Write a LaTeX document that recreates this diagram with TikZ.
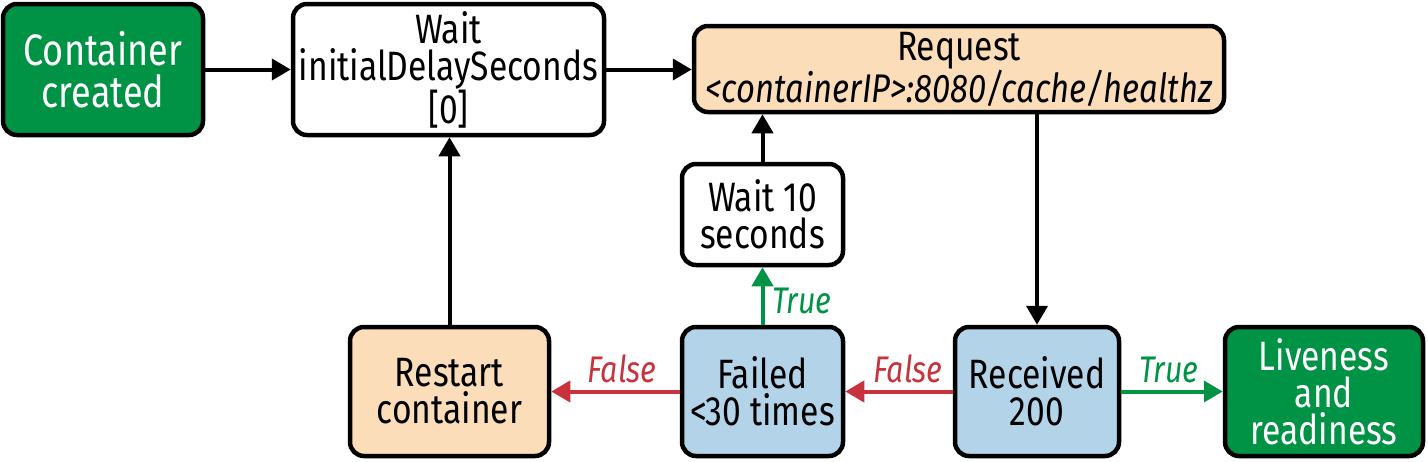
\documentclass[tikz,border=0pt]{standalone}
\usepackage{fontspec}
\setmainfont{Fira Sans}[FakeStretch=0.82]
\usetikzlibrary{arrows.meta}
\definecolor{gr}{HTML}{009245}
\definecolor{peach}{HTML}{FCDDBA}
\definecolor{lblue}{HTML}{B3D3E8}
\definecolor{rd}{HTML}{C8323C}
\tikzset{
  box/.style={draw, line width=4.5pt, rounded corners=14pt, align=center, inner sep=0pt,
    font=\fontsize{41}{37}\selectfont},
  conn/.style={line width=4pt, -{Triangle[length=19pt,width=21pt]}},
  lbl/.style={anchor=base, inner sep=0pt, font=\fontsize{37}{37}\selectfont\itshape},
}
\begin{document}
\begin{tikzpicture}[x=1pt,y=-1pt]
\useasboundingbox (0,0) rectangle (1428,461);
\node[box, fill=gr, text=white, minimum width=200pt, minimum height=131pt,
  font=\fontsize{44}{42}\selectfont] (cc) at (103,69.5) {Container\\created};
\node[box, fill=white, minimum width=311pt, minimum height=131pt] (wait0) at (448.5,69.5) {Wait\\initialDelaySeconds\\{[0]}};
\node[box, fill=peach, minimum width=530pt, minimum height=86pt] (req) at (959,69) {Request\\{\fontsize{40}{37}\selectfont\itshape <containerIP>:8080/cache/healthz}};
\node[box, fill=white, minimum width=161pt, minimum height=101pt] (w10) at (762.5,214.5) {Wait 10\\seconds};
\node[box, fill=peach, minimum width=199pt, minimum height=129pt] (restart) at (449.5,391.5) {Restart\\container};
\node[box, fill=lblue, minimum width=161pt, minimum height=129pt] (failed) at (762.5,391.5) {Failed\\<30 times};
\node[box, fill=lblue, minimum width=164pt, minimum height=129pt] (recv) at (1037,391.5) {Received\\200};
\node[box, fill=gr, text=white, minimum width=198pt, minimum height=129pt] (live) at (1324,391.5) {Liveness\\and\\readiness};

\draw[conn] (cc) -- (wait0);
\draw[conn] (wait0) -- (req.west |- wait0);
\draw[conn] (recv.north |- req.south) -- (recv.north);
\draw[conn, rd] (recv) -- (failed);
\draw[conn, rd] (failed) -- (restart);
\draw[conn, gr] (recv) -- (live);
\draw[conn, gr] (failed.north) -- (w10.south);
\draw[conn] (w10.north) -- (w10.north |- req.south);
\draw[conn] (restart.north) -- (restart.north |- wait0.south);

\node[lbl, text=rd] (f1) at (622,382) {False};
\node[lbl, text=rd] (f2) at (908,382) {False};
\node[lbl, text=gr] (t1) at (802,313) {True};
\node[lbl, text=gr] (t2) at (1169,382) {True};
\end{tikzpicture}
\end{document}
